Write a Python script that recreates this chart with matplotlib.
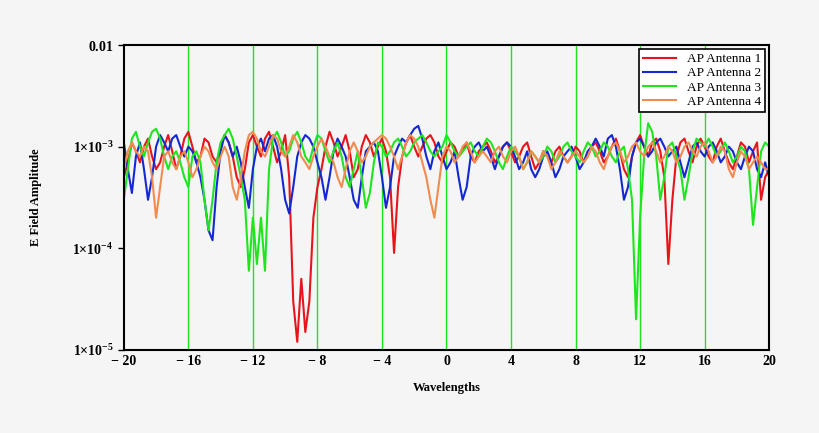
import numpy as np
import matplotlib
matplotlib.use("Agg")
import matplotlib.pyplot as plt

x = np.arange(-20, 20.001, 0.25)
# amplitudes in units of 1e-3
red = [.5,.7,1.1,.9,.7,1.0,1.2,.8,.6,.7,1.0,1.3,.9,.6,.8,1.2,
 1.4,1.0,.7,.8,1.2,1.1,.8,.7,1.0,1.3,1.1,.8,.5,.4,.6,1.1,
 1.3,1.0,.8,1.2,1.4,1.0,.7,.9,1.3,.5,.03,.012,.05,.015,.03,.2,
 .4,.6,1.0,1.4,1.1,.8,1.0,1.3,.9,.5,.6,1.0,1.3,1.1,.8,1.0,
 1.2,.9,.5,.09,.4,.8,1.1,1.3,1.0,.8,1.0,1.2,1.3,1.1,.8,.7,
 .9,1.1,1.0,.8,.9,1.1,.8,.7,.9,1.0,1.1,.9,.7,.8,1.0,1.1,
 .9,.7,.8,1.0,1.1,.8,.6,.7,.9,.8,.7,.9,1.0,.8,.7,.8,
 1.0,.9,.7,.8,1.0,1.1,.9,.7,.8,1.0,1.2,.9,.6,.5,.8,1.1,
 1.3,1.0,.8,1.1,1.2,.9,.5,.07,.3,.8,1.1,1.2,.9,.7,1.0,1.2,
 1.0,.8,.7,1.0,1.2,.9,.7,.6,.8,1.1,1.0,.7,.9,1.1,.3,.5,
 .6]
blue = [1.1,.6,.35,.8,1.1,.6,.3,.5,1.0,1.3,1.1,.9,1.2,1.3,1.0,.8,
 1.0,.9,.7,.5,.3,.15,.12,.4,.9,1.3,1.1,.8,1.0,.7,.4,.25,
 .6,1.0,1.2,.9,1.2,1.3,1.0,.6,.3,.22,.4,.8,1.1,1.3,1.2,1.0,
 .7,.5,.3,.5,.9,1.2,1.0,.8,.5,.3,.25,.5,.9,1.0,1.1,.9,
 .5,.25,.4,.8,1.0,1.2,1.1,1.3,1.5,1.6,1.2,.8,.6,.9,1.1,.8,
 .6,.7,.9,.5,.3,.4,.8,1.0,1.1,.9,1.0,.8,.6,.8,1.0,1.1,
 1.0,.8,.6,.7,.9,.6,.5,.6,.8,.9,.7,.5,.6,.8,.9,1.0,
 .8,.6,.7,.9,1.0,1.2,1.0,.8,1.2,1.3,1.0,.6,.3,.4,.8,1.1,
 1.2,1.0,.8,.9,1.1,1.2,1.0,.8,.9,1.0,.7,.5,.7,1.0,1.1,.9,
 .8,1.0,1.1,.9,.7,.8,1.0,.9,.7,.6,.8,1.0,.9,.6,.5,.7,
 .5]
green = [.3,.6,1.2,1.4,1.0,.8,1.1,1.4,1.5,1.2,.8,.6,.8,.9,.7,.5,
 .4,.8,.9,.7,.3,.15,.3,.7,1.1,1.3,1.5,1.2,.8,.5,.3,.06,
 .2,.07,.2,.06,.6,1.2,1.4,1.1,.8,.9,1.2,1.4,1.1,.8,.7,1.0,
 1.3,1.2,.9,.7,.9,1.1,.8,.5,.4,.6,.9,.5,.25,.35,.7,1.1,
 1.0,.8,.9,1.1,1.2,1.0,.8,.9,1.1,1.2,1.3,1.1,.9,.8,.9,1.0,
 1.3,1.1,.9,.8,.9,1.0,1.1,.9,.8,1.0,1.2,1.1,.9,.7,.6,.8,
 1.0,.9,.8,.6,.7,.9,.8,.7,.8,1.0,.9,.7,.8,1.0,1.1,.9,
 .8,.7,.9,1.1,1.0,.8,.9,1.1,1.0,.8,.7,.9,1.0,.6,.3,.02,
 .2,.8,1.7,1.4,.8,.3,.5,1.0,1.1,.8,.6,.3,.5,.9,1.2,1.1,
 1.0,1.2,1.0,.8,.9,1.1,.9,.7,.8,1.0,.9,.6,.17,.4,.9,1.1,
 1.0]
orange = [.6,.9,1.1,.9,.8,1.0,.9,.5,.2,.4,.8,.9,.7,.6,.8,.9,
 .7,.5,.6,.8,1.0,.9,.7,.6,.8,1.0,.8,.4,.3,.5,.9,1.3,
 1.4,1.2,.9,.8,1.0,1.3,1.2,.9,.8,1.0,1.3,1.1,.8,.7,.6,.8,
 1.0,1.2,1.0,.8,.7,.5,.4,.6,.9,1.1,.9,.7,.8,1.0,1.1,1.2,
 1.3,1.2,1.0,.8,.6,.8,1.1,1.3,1.2,1.0,.7,.5,.3,.2,.4,.8,
 1.0,.9,.7,.8,1.0,1.1,.9,.7,.8,.9,.8,.7,.9,1.0,.8,.7,
 .9,1.0,.8,.6,.7,.9,.8,.7,.9,.8,.6,.7,.9,.8,.7,.8,
 .9,.8,.7,.8,1.0,.9,.7,.6,.8,1.0,1.1,.9,.7,.8,1.0,1.1,
 .9,.8,1.0,1.1,.9,.7,.8,1.0,.9,.7,.8,1.0,1.1,.9,.8,1.0,
 1.1,.9,.7,.8,1.0,.9,.6,.5,.7,.9,.8,.6,.7,.8,.7,.6,
 .6]
labels = ["AP Antenna 1", "AP Antenna 2", "AP Antenna 3", "AP Antenna 4"]
colors = ["#e8141c", "#1428d2", "#1ee61e", "#f08c50"]
xticks = [-20, -16, -12, -8, -4, 0, 4, 8, 12, 16, 20]
yticks = [1e-5, 1e-4, 1e-3, 1e-2]
ytick_labels = [r"$\mathbf{1{\times}10^{-5}}$", r"$\mathbf{1{\times}10^{-4}}$",
                r"$\mathbf{1{\times}10^{-3}}$", r"$\mathbf{0.01}$"]

plt.rcParams['font.family'] = ['Liberation Serif', 'DejaVu Serif']
plt.rcParams['mathtext.fontset'] = 'custom'
plt.rcParams['mathtext.rm'] = 'Liberation Serif'
plt.rcParams['mathtext.bf'] = 'Liberation Serif:bold'

bg = "#f5f5f5"
fig = plt.figure(figsize=(8.2, 4.33), dpi=100, facecolor=bg)
ax = fig.add_axes([0.151, 0.192, 0.787, 0.704], facecolor=bg)
for v in xticks[1:-1]:
    ax.axvline(v, color="#1ee61e", lw=1, zorder=1)
for ys, c, l in zip([red, blue, green, orange], colors, labels):
    ax.plot(x, np.array(ys) * 1e-3, color=c, lw=1.5, label=l, zorder=2)
ax.set_yscale("log")
ax.set_xlim(-20, 20)
ax.set_ylim(1e-5, 1e-2)
ax.set_xticks(xticks)
ax.set_xticklabels([("\u2212 " + str(-t)) if t < 0 else str(t) for t in xticks],
                   fontweight="bold", fontsize=10)
ax.set_yticks(yticks)
ax.set_yticklabels(ytick_labels, fontsize=10)
ax.yaxis.set_minor_locator(matplotlib.ticker.NullLocator())
ax.tick_params(direction="out", length=4, width=1)
ax.tick_params(axis="x", length=0, pad=4)
for s in ax.spines.values():
    s.set_linewidth(1.5)
ax.set_xlabel("Wavelengths", fontweight="bold", fontsize=9, labelpad=10)
ax.set_ylabel("E Field Amplitude", fontweight="bold", fontsize=9, labelpad=22)
leg = ax.legend(loc="upper right", fontsize=9.5, fancybox=False, framealpha=1,
                edgecolor="black", borderpad=0.3, labelspacing=0.15,
                handlelength=2.5, borderaxespad=0.3)
leg.get_frame().set_linewidth(1.2)
leg.get_frame().set_facecolor("white")
fig.savefig("out.png", dpi=100, facecolor=bg)
